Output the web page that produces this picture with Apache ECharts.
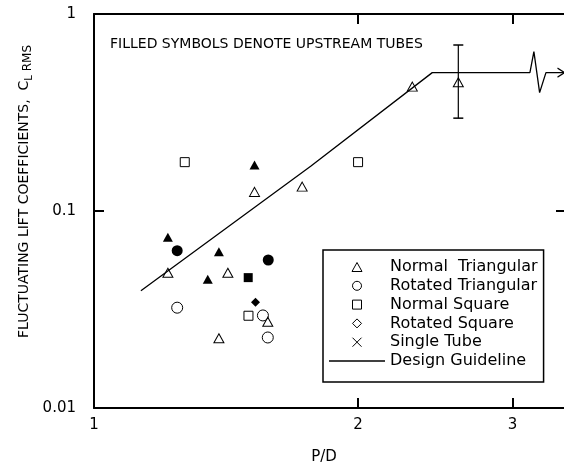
<!DOCTYPE html>
<html>
    <head>
        <meta charset="UTF-8">
        <title></title>
        <script type="text/javascript" src="https://cdn.jsdelivr.net/npm/echarts@6.0.0/dist/echarts.min.js"></script>
    </head>
    <body style="margin:0;">
        <div id="main" style="width: 564px;height:470px;"></div>
    </body>
</html>
<script type="text/javascript">
        // P/D, C_L RMS pairs
        var normalTriOpen = [[1.214, 0.0486], [1.421, 0.0486], [1.388, 0.0226], [1.578, 0.0274], [1.524, 0.125], [1.727, 0.133], [2.306, 0.428], [2.602, 0.450]];
        var normalTriFilled = [[1.214, 0.0735], [1.348, 0.0450], [1.388, 0.0621], [1.524, 0.171]];
        var rotTriOpen = [[1.244, 0.0323], [1.558, 0.0295], [1.578, 0.0228]];
        var rotTriFilled = [[1.244, 0.0629], [1.580, 0.0564]];
        var normSqOpen = [[1.269, 0.177], [1.500, 0.0294], [2.0, 0.177]];
        var normSqFilled = [[1.499, 0.0459]];
        var rotSqFilled = [[1.528, 0.0344]];
        var singleTube = [];
        var guideline = [[1.131, 0.0394], [1.766, 0.1686], [2.430, 0.504], [3.140, 0.504], [3.173, 0.644], [3.221, 0.399], [3.275, 0.504], [3.434, 0.504]];
        var errorBar = [[2.602, 0.296], [2.602, 0.696]];
        var xTicks = [1, 2, 3];
        var legendNames = ['Normal  Triangular', 'Rotated Triangular', 'Normal Square', 'Rotated Square', 'Single Tube', 'Design Guideline'];

        var font = 'DejaVu Sans';
        var myChart = echarts.init(document.getElementById('main'));

        function scatter(name, data, symbol, size, filled) {
                return {
                        name: name,
                        type: 'scatter',
                        data: data,
                        symbol: symbol,
                        symbolSize: size,
                        itemStyle: filled ? { color: '#000', opacity: 1 } : { color: 'transparent', borderColor: '#000', borderWidth: 1, opacity: 1 },
                        z: 3
                };
        }

        // guideline: last point carries the open arrow head
        var guideData = guideline.map(function (p, i) {
                if (i === guideline.length - 1) {
                        return {
                                value: p,
                                symbol: 'path://M0,0L10,5L0,10',
                                symbolSize: [7, 9],
                                symbolOffset: [-3, 0],
                                itemStyle: { color: 'transparent', borderColor: '#000', borderWidth: 1.2 }
                        };
                }
                return { value: p, symbol: 'none' };
        });

        var axisLineStyle = { show: true, onZero: false, lineStyle: { color: '#000', width: 2 } };
        var labelStyle = { color: '#000', fontFamily: font, fontSize: 15 };

        option = {
                animation: false,
                textStyle: { fontFamily: font },
                title: {
                        text: 'FILLED SYMBOLS DENOTE UPSTREAM TUBES',
                        left: 110,
                        top: 37,
                        padding: 0,
                        textStyle: { fontFamily: font, fontSize: 14, fontWeight: 'normal', color: '#000' }
                },
                grid: { left: 94, right: -2, top: 14, bottom: 62, outerBoundsMode: 'none' },
                legend: {
                        orient: 'vertical',
                        left: 323,
                        top: 250,
                        padding: [8.5, 6, 12.5, 6],
                        itemGap: 1.8,
                        itemWidth: 56,
                        itemHeight: 9,
                        symbolKeepAspect: true,
                        backgroundColor: '#fff',
                        borderColor: '#000',
                        borderWidth: 1.5,
                        borderRadius: 0,
                        selectedMode: false,
                        textStyle: { color: '#000', fontFamily: font, fontSize: 16, lineHeight: 17 },
                        itemStyle: { color: 'transparent', borderColor: '#000', borderWidth: 1, opacity: 1 },
                        data: [
                                { name: legendNames[0], icon: 'path://M5,0L10,9L0,9Z' },
                                { name: legendNames[1], icon: 'circle' },
                                { name: legendNames[2], icon: 'path://M0,0H9V9H0Z' },
                                { name: legendNames[3], icon: 'path://M5,0L10,5L5,10L0,5Z' },
                                { name: legendNames[4], icon: 'path://M0,0L10,10M10,0L0,10' },
                                { name: legendNames[5], icon: 'path://M0,0H52V1.2H0Z', itemStyle: { color: '#000', borderWidth: 0 } }
                        ]
                },
                xAxis: [{
                        type: 'log',
                        min: 1,
                        max: 3.452,
                        position: 'bottom',
                        name: 'P/D',
                        nameLocation: 'middle',
                        nameGap: 42,
                        nameMoveOverlap: false,
                        nameTextStyle: { color: '#000', fontFamily: font, fontSize: 15, padding: [0, 12, 0, 0] },
                        axisLine: axisLineStyle,
                        axisTick: { show: true, inside: true, length: 10, customValues: xTicks, lineStyle: { color: '#000', width: 2 } },
                        axisLabel: Object.assign({ margin: 10, customValues: xTicks }, labelStyle),
                        splitLine: { show: false }
                }, {
                        type: 'log',
                        min: 1,
                        max: 3.452,
                        position: 'top',
                        axisLine: axisLineStyle,
                        axisTick: { show: true, inside: true, length: 10, customValues: xTicks.slice(1), lineStyle: { color: '#000', width: 2 } },
                        axisLabel: { show: false },
                        splitLine: { show: false }
                }],
                yAxis: [{
                        type: 'log',
                        min: 0.01,
                        max: 1,
                        position: 'left',
                        name: '{t|FLUCTUATING LIFT COEFFICIENTS,  C}{s|L}{r| RMS}',
                        nameLocation: 'middle',
                        nameGap: 60,
                        nameMoveOverlap: false,
                        nameTextStyle: {
                                color: '#000',
                                fontFamily: font,
                                fontSize: 14,
                                lineHeight: 20,
                                padding: [0, 0, 0, 39],
                                rich: {
                                        t: { fontFamily: font, fontSize: 14, lineHeight: 20, color: '#000', verticalAlign: 'middle' },
                                        s: { fontFamily: font, fontSize: 10, lineHeight: 10, color: '#000', verticalAlign: 'bottom' },
                                        r: { fontFamily: font, fontSize: 12, lineHeight: 16, color: '#000', verticalAlign: 'bottom' }
                                }
                        },
                        axisLine: axisLineStyle,
                        axisTick: { show: true, inside: true, length: 10, lineStyle: { color: '#000', width: 2 } },
                        axisLabel: Object.assign({ margin: 18 }, labelStyle),
                        splitLine: { show: false }
                }, {
                        type: 'log',
                        min: 0.01,
                        max: 1,
                        position: 'right',
                        axisLine: axisLineStyle,
                        axisTick: { show: true, inside: true, length: 10, lineStyle: { color: '#000', width: 2 } },
                        axisLabel: { show: false },
                        splitLine: { show: false }
                }],
                series: [
                        {
                                name: legendNames[5],
                                type: 'line',
                                data: guideData,
                                symbol: 'none',
                                showSymbol: true,
                                lineStyle: { color: '#000', width: 1.3 },
                                itemStyle: { color: '#000' },
                                z: 2
                        },
                        {
                                name: 'errorbar',
                                type: 'line',
                                data: errorBar,
                                symbol: 'rect',
                                symbolSize: [10, 1.5],
                                lineStyle: { color: '#000', width: 1.2 },
                                itemStyle: { color: '#000' },
                                z: 2
                        },
                        scatter(legendNames[0], normalTriOpen, 'triangle', [10, 9], false),
                        scatter(legendNames[0], normalTriFilled, 'triangle', [10, 9], true),
                        scatter(legendNames[1], rotTriOpen, 'circle', 11, false),
                        scatter(legendNames[1], rotTriFilled, 'circle', 11, true),
                        scatter(legendNames[2], normSqOpen, 'rect', 9, false),
                        scatter(legendNames[2], normSqFilled, 'rect', 9, true),
                        scatter(legendNames[3], rotSqFilled, 'diamond', 9, true),
                        scatter(legendNames[4], singleTube, 'path://M0,0L10,10M10,0L0,10', 9, false)
                ]
        };
        myChart.setOption(option);
</script>
